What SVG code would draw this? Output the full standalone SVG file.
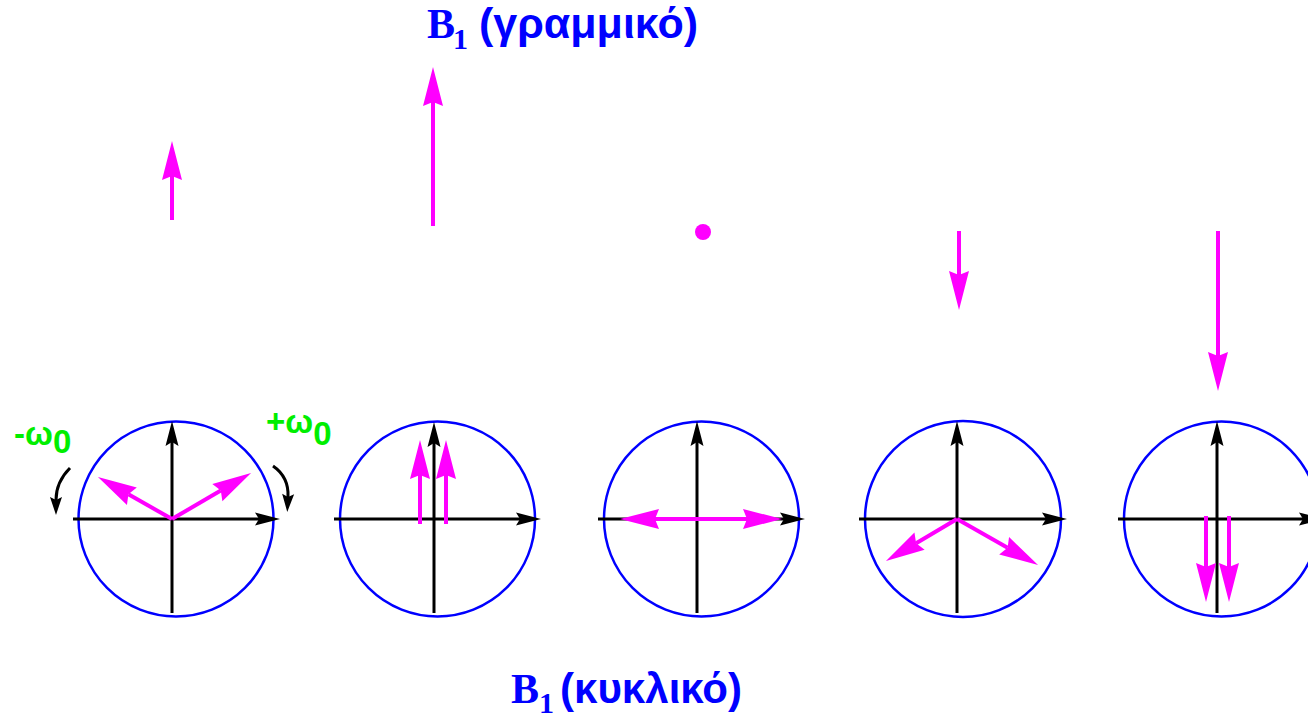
<svg xmlns="http://www.w3.org/2000/svg" width="1308" height="720" viewBox="0 0 1308 720">
<style>
.circ{fill:none;stroke:#0000ff;stroke-width:2.5}
.ax{stroke:#000;stroke-width:3;fill:none}
.mg{stroke:#ff00ff;stroke-width:4;fill:none}
.rot{stroke:#000;stroke-width:3;fill:none}
.ttl{fill:#0000ff;font-weight:bold}
.serif{font-family:"Liberation Serif","DejaVu Serif",serif}
.sans{font-family:"Liberation Sans","DejaVu Sans",sans-serif}
.grn{fill:#00ee00;font-family:"Liberation Sans","DejaVu Sans",sans-serif;font-weight:bold;font-size:33px}
</style>
<defs>
<marker id="mh" markerUnits="userSpaceOnUse" markerWidth="44" markerHeight="24" viewBox="-1 -12 44 24" refX="4" refY="0" orient="auto-start-reverse">
<path d="M0,-10 L39,0 L0,10 L4,0 Z" fill="#ff00ff"/>
</marker>
<marker id="kh" markerUnits="userSpaceOnUse" markerWidth="30" markerHeight="16" viewBox="-1 -8 30 16" refX="4" refY="0" orient="auto">
<path d="M0,-6.5 L25,0 L0,6.5 L4,0 Z" fill="#000"/>
</marker>
<marker id="rh" markerUnits="userSpaceOnUse" markerWidth="22" markerHeight="14" viewBox="-1 -7 22 14" refX="3" refY="0" orient="auto">
<path d="M0,-6 L18,0 L0,6 L3,0 Z" fill="#000"/>
</marker>
</defs>

<g id="title-top">
<text class="ttl" y="38"><tspan class="serif" x="427" font-size="42">B</tspan><tspan class="serif" x="453" y="49" font-size="30">1</tspan><tspan class="sans" x="479" y="38" font-size="43">(γραμμικό)</tspan></text>
</g>
<g id="title-bottom">
<text class="ttl" y="703"><tspan class="serif" x="511" font-size="42">B</tspan><tspan class="serif" x="539" y="713" font-size="30">1</tspan><tspan class="sans" x="560" y="703" font-size="42">(κυκλικό)</tspan></text>
</g>

<g id="linear-field">
<line class="mg" x1="172" y1="220" x2="172" y2="176" marker-end="url(#mh)"/>
<line class="mg" x1="433" y1="226" x2="433" y2="102" marker-end="url(#mh)"/>
<circle cx="703" cy="232" r="8" fill="#ff00ff"/>
<line class="mg" x1="959" y1="231" x2="959" y2="275" marker-end="url(#mh)"/>
<line class="mg" x1="1218" y1="231" x2="1218" y2="356" marker-end="url(#mh)"/>
</g>

<g id="circle1">
<circle class="circ" cx="176" cy="519" r="97.5"/>
<line class="ax" x1="73" y1="519" x2="259" y2="519" marker-end="url(#kh)"/>
<line class="ax" x1="172" y1="613" x2="172" y2="442" marker-end="url(#kh)"/>
<line class="mg" x1="172" y1="519" x2="128.4" y2="494.3" marker-end="url(#mh)"/>
<line class="mg" x1="172" y1="519" x2="220.8" y2="490.6" marker-end="url(#mh)"/>
<path class="rot" d="M70,468 Q56,482 56,500" marker-end="url(#rh)"/>
<path class="rot" d="M273,466 Q289,477 288,497" marker-end="url(#rh)"/>
<text class="grn" x="14" y="445">-ω<tspan y="453">0</tspan></text>
<text class="grn" x="266" y="433">+ω<tspan y="445">0</tspan></text>
</g>

<g id="circle2">
<circle class="circ" cx="437.5" cy="519" r="97.5"/>
<line class="ax" x1="334" y1="519" x2="520" y2="519" marker-end="url(#kh)"/>
<line class="ax" x1="434" y1="613" x2="434" y2="443" marker-end="url(#kh)"/>
<line class="mg" x1="420" y1="524" x2="420" y2="475" marker-end="url(#mh)"/>
<line class="mg" x1="446" y1="524" x2="446" y2="475" marker-end="url(#mh)"/>
</g>

<g id="circle3">
<circle class="circ" cx="701.5" cy="519" r="97.5"/>
<line class="ax" x1="598" y1="519" x2="784" y2="519" marker-end="url(#kh)"/>
<line class="ax" x1="697" y1="613" x2="697" y2="442" marker-end="url(#kh)"/>
<line class="mg" x1="655" y1="519" x2="747" y2="519" marker-start="url(#mh)" marker-end="url(#mh)"/>
</g>

<g id="circle4">
<circle class="circ" cx="963" cy="519" r="98"/>
<line class="ax" x1="859" y1="519" x2="1046" y2="519" marker-end="url(#kh)"/>
<line class="ax" x1="957" y1="613" x2="957" y2="442" marker-end="url(#kh)"/>
<line class="mg" x1="957" y1="519" x2="916.1" y2="543.2" marker-end="url(#mh)"/>
<line class="mg" x1="957" y1="519" x2="1007.6" y2="547.7" marker-end="url(#mh)"/>
</g>

<g id="circle5">
<circle class="circ" cx="1221.5" cy="519" r="97.5"/>
<line class="ax" x1="1118" y1="519" x2="1303" y2="519" marker-end="url(#kh)"/>
<line class="ax" x1="1217" y1="613" x2="1217" y2="442" marker-end="url(#kh)"/>
<line class="mg" x1="1206" y1="516" x2="1206" y2="567" marker-end="url(#mh)"/>
<line class="mg" x1="1229" y1="516" x2="1229" y2="567" marker-end="url(#mh)"/>
</g>
</svg>
